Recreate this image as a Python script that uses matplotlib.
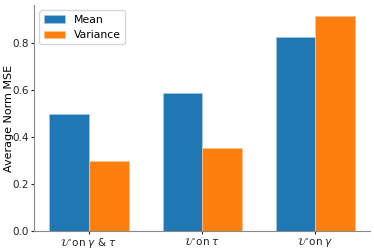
import matplotlib
matplotlib.use("Agg")
import matplotlib.pyplot as plt
import numpy as np

categories = [r"$\mathcal{U}$ on $\gamma$ & $\tau$", r"$\mathcal{U}$ on $\tau$", r"$\mathcal{U}$ on $\gamma$"]
mean_vals = [0.495, 0.587, 0.826]
var_vals = [0.297, 0.353, 0.915]

plt.rcParams['font.size'] = 7.5

fig, ax = plt.subplots(figsize=(3.74, 2.49), dpi=100)
x = np.arange(len(categories))
w = 0.35
ax.bar(x - w / 2, mean_vals, w, label="Mean", color="#1f77b4", edgecolor="#a6c8e4", linewidth=0.5)
ax.bar(x + w / 2, var_vals, w, label="Variance", color="#ff7f0e", edgecolor="#ffc28f", linewidth=0.5)

ax.set_xticks(x)
ax.set_xticklabels(categories)
ax.set_ylabel("Average Norm MSE", fontsize=8, va='center')
ax.yaxis.set_label_coords(-0.075, 0.5)
ax.set_ylim(0, 0.96)
ax.set_yticks([0.0, 0.2, 0.4, 0.6, 0.8])
ax.tick_params(length=2, pad=1.5, colors='#222222')
ax.spines['top'].set_visible(False)
ax.spines['right'].set_visible(False)
for s in ['left', 'bottom']:
    ax.spines[s].set_color('#888888')
ax.legend(loc='upper left', fontsize=7.8)

fig.subplots_adjust(left=0.091, right=0.99, top=0.98, bottom=0.072)
fig.savefig("out.png")
